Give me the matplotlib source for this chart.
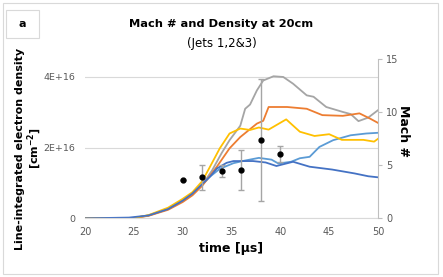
import numpy as np
import matplotlib
matplotlib.use("Agg")
import matplotlib.pyplot as plt
from matplotlib.patches import Rectangle
from matplotlib.ticker import FuncFormatter

# density traces, values in units of 1E+16 cm^-2
t_gray = [20, 25, 26.5, 28.5, 30, 31, 32, 33, 34, 34.8, 35.9, 36.4, 36.9, 37.6, 38.25, 39.3,
          40.3, 41.3, 42.7, 43.4, 44.7, 46.4, 47.2, 48.0, 49.0, 50]
gray = [0, 0.01, 0.08, 0.26, 0.5, 0.7, 0.95, 1.35, 1.85, 2.21, 2.62, 3.1, 3.22, 3.62, 3.9, 4.02,
        4.0, 3.81, 3.48, 3.44, 3.15, 3.01, 2.95, 2.75, 2.85, 3.06]

t_orange = [20, 25, 26.5, 28.5, 30, 31, 32, 33.5, 34.8, 35.9, 37.6, 38.25, 38.8, 40.7, 42.7,
            44.3, 46.4, 48.1, 49.2, 50]
orange = [0, 0.01, 0.07, 0.24, 0.46, 0.65, 0.92, 1.46, 1.98, 2.3, 2.68, 2.76, 3.15, 3.15, 3.1,
          2.92, 2.9, 2.97, 2.82, 2.7]

t_yellow = [20, 25, 26.5, 28.5, 30, 31, 32, 32.8, 33.8, 34.8, 35.9, 36.9, 37.8, 38.8, 40.6,
            42.0, 43.5, 45.0, 46.3, 48.5, 49.6, 50]
yellow = [0, 0.01, 0.09, 0.3, 0.55, 0.74, 1.05, 1.46, 1.98, 2.4, 2.54, 2.5, 2.57, 2.51, 2.8,
          2.45, 2.33, 2.38, 2.22, 2.22, 2.17, 2.25]

t_lblue = [20, 25, 26.5, 28.5, 30, 31, 32, 32.8, 33.8, 34.5, 35.2, 36.3, 37.8, 39.1, 39.8,
           41.1, 42.0, 43.0, 44.0, 45.4, 47.2, 48.8, 50]
lblue = [0, 0.01, 0.08, 0.27, 0.5, 0.7, 0.95, 1.18, 1.4, 1.48, 1.56, 1.63, 1.71, 1.66, 1.55,
         1.6, 1.7, 1.74, 2.02, 2.21, 2.35, 2.4, 2.42]

t_dblue = [20, 24.5, 26.5, 28.5, 30, 31, 32, 32.8, 33.5, 34.5, 35.2, 37.2, 38.5, 39.6, 41.3,
           43.0, 45.3, 47.6, 49.0, 50]
dblue = [0, 0.02, 0.08, 0.26, 0.5, 0.7, 0.97, 1.18, 1.41, 1.57, 1.62, 1.62, 1.58, 1.48, 1.6,
         1.46, 1.38, 1.27, 1.19, 1.16]

# Mach number measurements
t_mach = [30, 32, 34, 36, 38, 40]
mach = [3.65, 3.87, 4.46, 4.56, 7.35, 6.1]
mach_err = [0, 1.18, 0.58, 1.92, 5.75, 0.75]

fig = plt.figure(figsize=(4.43, 2.77), dpi=100)
ax = fig.add_axes([85 / 443, 1 - 218.3 / 277, 293 / 443, 159 / 277])
ax2 = ax.twinx()

series = [
    (t_lblue, lblue, "#5B9BD5"),
    (t_gray, gray, "#A5A5A5"),
    (t_orange, orange, "#ED7D31"),
    (t_yellow, yellow, "#FFC000"),
    (t_dblue, dblue, "#4472C4"),
]
for tt, vals, col in series:
    ax.plot(tt, np.array(vals) * 1e16, color=col, lw=1.3)

ax.set_xlim(20, 50)
ax.set_ylim(0, 4.5e16)
ax.set_yticks([0, 2e16, 4e16])
ax.yaxis.set_major_formatter(FuncFormatter(lambda v, p: "0" if v == 0 else "%dE+16" % round(v / 1e16)))
ax.set_xticks(range(20, 51, 5))
ax.grid(axis="y", color="#D9D9D9", lw=0.8)
ax.set_axisbelow(True)
ax.tick_params(axis="x", length=0, labelsize=7, colors="#595959", pad=6)
ax.tick_params(axis="y", length=0, labelsize=6.8, colors="#595959", pad=7)
for s in ["top", "left", "right"]:
    ax.spines[s].set_visible(False)
ax.spines["bottom"].set_color("#D9D9D9")

ax2.errorbar(t_mach, mach, yerr=mach_err, fmt="o", color="black", ms=3.5,
             ecolor="#A5A5A5", elinewidth=1, capsize=2, capthick=1)
ax2.set_ylim(0, 15)
ax2.set_yticks([0, 5, 10, 15])
ax2.tick_params(axis="y", length=3, labelsize=7, colors="#595959", pad=3)
ax2.tick_params(axis="y", color="#BFBFBF")
for s in ["top", "left", "bottom"]:
    ax2.spines[s].set_visible(False)
ax2.spines["right"].set_color("#BFBFBF")

ax.set_xlabel("time [μs]", fontsize=9, fontweight="bold", labelpad=4)
# left axis title as two separate lines
fig.text(20 / 443, 1 - 148.5 / 277, "Line-integrated electron density", rotation=90,
         ha="center", va="center", fontsize=8, fontweight="bold")
fig.text(34.5 / 443, 1 - 148 / 277, "[cm$^{\\mathbf{-2}}$]", rotation=90,
         ha="center", va="center", fontsize=8, fontweight="bold")
ax2.set_ylabel("Mach #", fontsize=9, fontweight="bold", rotation=270, labelpad=18)
ax2.yaxis.set_label_coords(1.11, 0.55)

fig.text(0.5, 1 - 24 / 277, "Mach # and Density at 20cm", ha="center", va="center",
         fontsize=8.2, fontweight="bold")
fig.text(0.5, 1 - 43 / 277, "(Jets 1,2&3)", ha="center", va="center", fontsize=8.5)

# outer frame and panel label
fig.patches.append(Rectangle((3 / 443, 3 / 277), 435 / 443, 271 / 277, transform=fig.transFigure,
                             fill=False, edgecolor="#D9D9D9", lw=0.8))
fig.patches.append(Rectangle((6 / 443, 1 - 38 / 277), 33 / 443, 28 / 277, transform=fig.transFigure,
                             fill=False, edgecolor="#D9D9D9", lw=0.8))
fig.text(22.5 / 443, 1 - 24 / 277, "a", ha="center", va="center", fontsize=8, fontweight="bold")

fig.savefig("out.png", dpi=100)
